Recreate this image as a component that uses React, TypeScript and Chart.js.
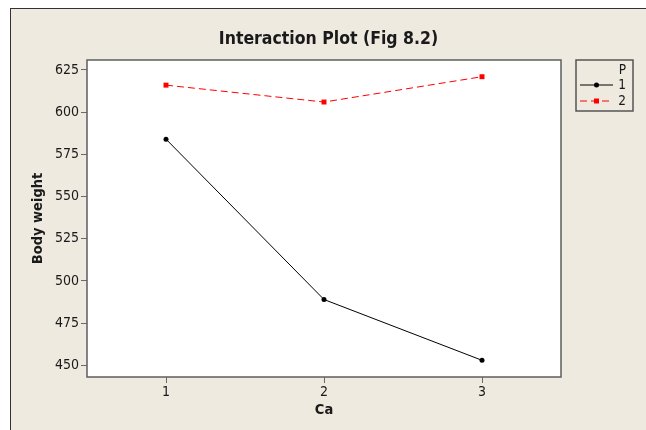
import React, { useEffect, useRef } from "react";
import { Chart, registerables } from "chart.js";

Chart.register(...registerables);

const categories = ["1", "2", "3"];
const seriesNames = ["1", "2"];
const p1Values = [584, 489, 453];
const p2Values = [616, 606, 621];
const yMin = 443.1;
const yMax = 630.9;
const yStep = 25;

const FONT = "'DejaVu Sans Condensed', 'DejaVu Sans', sans-serif";
const BG = "#EEEAE0";
const TEXT = "#1a1a1a";

const framePlugin = {
  id: "frame",
  beforeDraw(chart: any) {
    const { ctx, chartArea } = chart;
    ctx.save();
    ctx.fillStyle = "#ffffff";
    ctx.fillRect(chartArea.left, chartArea.top, chartArea.right - chartArea.left, chartArea.bottom - chartArea.top);
    ctx.restore();
  },
  afterDraw(chart: any) {
    const { ctx, chartArea } = chart;
    ctx.save();
    ctx.strokeStyle = "#5e5e5e";
    ctx.lineWidth = 1.5;
    ctx.strokeRect(chartArea.left, chartArea.top, chartArea.right - chartArea.left, chartArea.bottom - chartArea.top);
    ctx.restore();

    // legend box
    const bx = chartArea.right + 15;
    const by = chartArea.top;
    const bw = 57;
    const bh = 51;
    ctx.save();
    ctx.strokeStyle = "#555555";
    ctx.lineWidth = 1.5;
    ctx.strokeRect(bx, by, bw, bh);
    ctx.fillStyle = TEXT;
    ctx.font = `13.5px ${FONT}`;
    ctx.textAlign = "right";
    ctx.textBaseline = "middle";
    const tx = bx + bw - 7;
    ctx.fillText("P", tx, by + 10);
    chart.data.datasets.forEach((ds: any, i: number) => {
      const y = by + 25 + i * 16;
      ctx.save();
      ctx.strokeStyle = ds.borderColor;
      ctx.lineWidth = 1;
      ctx.setLineDash(ds.borderDash || []);
      ctx.beginPath();
      ctx.moveTo(bx + 4, y);
      ctx.lineTo(bx + 37, y);
      ctx.stroke();
      ctx.setLineDash([]);
      ctx.fillStyle = ds.pointBackgroundColor;
      const cx = bx + 20.5;
      if (ds.pointStyle === "rect") {
        ctx.fillRect(cx - 2.5, y - 2.5, 5, 5);
      } else {
        ctx.beginPath();
        ctx.arc(cx, y, 2.5, 0, Math.PI * 2);
        ctx.fill();
      }
      ctx.restore();
      ctx.fillStyle = TEXT;
      ctx.fillText(ds.label, tx, y);
    });
    ctx.restore();
  },
};

export default function App() {
  const ref = useRef<HTMLCanvasElement | null>(null);

  useEffect(() => {
    if (!ref.current) return;
    const chart = new Chart(ref.current, {
      type: "line",
      data: {
        labels: categories,
        datasets: [
          {
            label: seriesNames[0],
            data: p1Values,
            borderColor: "#000000",
            backgroundColor: "#000000",
            pointBackgroundColor: "#000000",
            pointBorderColor: "#000000",
            borderWidth: 1,
            pointStyle: "circle",
            pointRadius: 2.5,
            pointBorderWidth: 0,
            tension: 0,
          },
          {
            label: seriesNames[1],
            data: p2Values,
            borderColor: "#ff0000",
            backgroundColor: "#ff0000",
            pointBackgroundColor: "#ff0000",
            pointBorderColor: "#ff0000",
            borderWidth: 1,
            borderDash: [7, 4],
            pointStyle: "rect",
            pointRadius: 3.5,
            pointBorderWidth: 0,
            tension: 0,
          },
        ],
      },
      options: {
        animation: false,
        responsive: true,
        maintainAspectRatio: false,
        layout: { padding: 0 },
        plugins: {
          legend: { display: false },
          tooltip: { enabled: false },
          title: {
            display: true,
            text: "Interaction Plot (Fig 8.2)",
            color: TEXT,
            font: { family: FONT, size: 17.5, weight: "bold" },
            padding: { top: 19.5, bottom: 10.5 },
          },
        },
        scales: {
          x: {
            type: "category",
            offset: true,
            grid: { drawOnChartArea: false, drawTicks: true, tickLength: 6, color: "#6a6a6a", offset: false },
            border: { display: false },
            ticks: { color: TEXT, font: { family: FONT, size: 14 }, padding: 1, maxRotation: 0 },
            title: {
              display: true,
              text: "Ca",
              color: TEXT,
              font: { family: FONT, size: 14.5, weight: "bold" },
              padding: { top: 0, bottom: 11 },
            },
            afterFit(scale: any) {
              scale.height = 53;
            },
          },
          y: {
            type: "linear",
            position: "left",
            min: yMin,
            max: yMax,
            grid: { drawOnChartArea: false, drawTicks: true, tickLength: 6, color: "#6a6a6a" },
            border: { display: false },
            ticks: { stepSize: yStep, includeBounds: false, color: TEXT, font: { family: FONT, size: 14 }, padding: 2 },
            title: {
              display: true,
              text: "Body weight",
              color: TEXT,
              font: { family: FONT, size: 14.5, weight: "bold" },
              padding: { top: 18.3, bottom: 0 },
            },
            afterFit(scale: any) {
              scale.width = 76;
            },
          },
          legendSpace: {
            type: "linear",
            position: "right",
            display: true,
            grid: { display: false, drawTicks: false },
            border: { display: false },
            ticks: { display: false },
            afterFit(scale: any) {
              scale.width = 85;
            },
          },
        },
      },
      plugins: [framePlugin],
    });
    return () => chart.destroy();
  }, []);

  return (
    <div
      style={{
        position: "fixed",
        left: 10,
        top: 8,
        width: 636,
        height: 422,
        boxSizing: "border-box",
        borderLeft: "1px solid #333",
        borderTop: "1px solid #333",
        background: BG,
      }}
    >
      <div style={{ position: "relative", width: 635, height: 421 }}>
        <canvas ref={ref} />
      </div>
    </div>
  );
}
